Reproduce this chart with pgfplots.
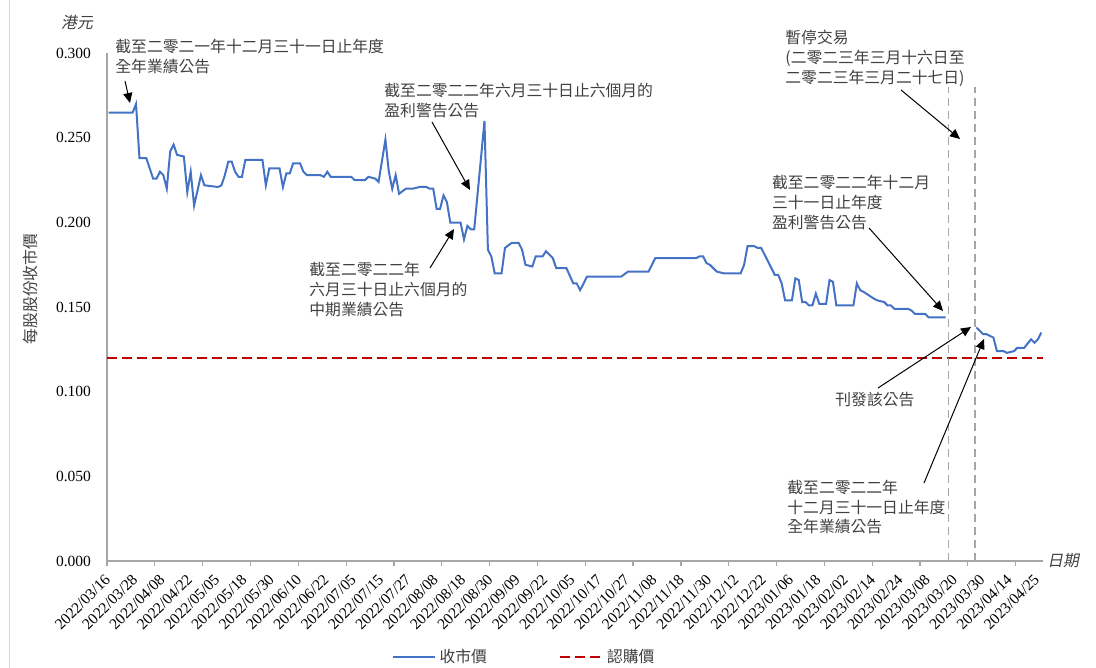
\documentclass[border=0pt]{standalone}
\usepackage{fontspec}
\setmainfont{Liberation Serif}
\newfontfamily\cjk{Noto Sans CJK TC}
\newfontfamily\cjkit[FakeSlant=0.2]{Noto Sans CJK TC}
\usepackage{pgfplots}
\pgfplotsset{compat=1.18}
\usetikzlibrary{arrows.meta}

\definecolor{lineblue}{RGB}{68,114,196}
\definecolor{subred}{RGB}{192,0,0}
\definecolor{axisgray}{RGB}{166,166,166}
\definecolor{txtgray}{RGB}{64,64,64}

\tikzset{ann/.style={-{Triangle[length=5pt,width=4.5pt]}, line width=0.5pt, black},
         anntext/.style={anchor=north west, inner sep=0pt, align=left, text=txtgray,
                         font=\cjk\fontsize{7.9}{9.9}\selectfont}}

\begin{document}
\begin{tikzpicture}
\useasboundingbox (0,0) rectangle (548pt,334pt);
\begin{axis}[
    at={(53.5pt,53.5pt)}, anchor=south west,
    scale only axis, width=468pt, height=253.85pt,
    xmin=-0.5, xmax=273.5, ymin=0, ymax=0.3,
    axis lines*=left,
    axis line style={draw=axisgray, line width=0.8pt},
    xtick={0,8,...,272},
    xticklabels={2022/03/16,2022/03/28,2022/04/08,2022/04/22,2022/05/05,2022/05/18,
        2022/05/30,2022/06/10,2022/06/22,2022/07/05,2022/07/15,2022/07/27,2022/08/08,
        2022/08/18,2022/08/30,2022/09/09,2022/09/22,2022/10/05,2022/10/17,2022/10/27,
        2022/11/08,2022/11/18,2022/11/30,2022/12/12,2022/12/22,2023/01/06,2023/01/18,
        2023/02/02,2023/02/14,2023/02/24,2023/03/08,2023/03/20,2023/03/30,2023/04/14,
        2023/04/25},
    minor xtick={-0.5,13.5,...,265.5},
    ytick={0,0.05,0.1,0.15,0.2,0.25,0.3},
    major tick length=0pt, minor tick length=2.5pt,
    tick align=outside,
    every tick/.style={draw=axisgray, line width=0.6pt},
    every minor tick/.style={draw=axisgray, line width=0.6pt},
    tick label style={font=\fontsize{7.75}{9}\selectfont, text=black},
    xticklabel style={yshift=-6pt, xshift=-2.5pt, rotate=45, anchor=north east, inner sep=0pt},
    yticklabel style={xshift=-4.5pt,
        /pgf/number format/.cd, fixed, fixed zerofill, precision=3, assume math mode=true},
    scaled y ticks=false,
    unbounded coords=jump,
    legend style={at={(0.4466,-0.189)}, anchor=center, draw=none, fill=none,
        legend columns=2, text=txtgray, font=\cjk\fontsize{7.9}{9}\selectfont,
        /tikz/every even column/.append style={column sep=34pt}},
    legend image code/.code={\draw[#1] (0pt,0pt) -- (21pt,0pt);},
    clip=false,
]
\addplot[color=lineblue, line width=1pt] table {
x y
0 0.265
7 0.265
8 0.270
9 0.238
11 0.238
13 0.226
14 0.226
15 0.230
16 0.228
17 0.220
18 0.242
19 0.246
20 0.240
22 0.239
23 0.218
24 0.230
25 0.210
27 0.228
28 0.222
32 0.221
33 0.222
34 0.228
35 0.236
36 0.236
37 0.230
38 0.227
39 0.227
40 0.237
45 0.237
46 0.222
47 0.232
50 0.232
51 0.221
52 0.229
53 0.229
54 0.235
56 0.235
57 0.230
58 0.228
62 0.228
63 0.227
64 0.230
65 0.227
71 0.227
72 0.225
75 0.225
76 0.227
78 0.226
79 0.224
81 0.249
82 0.230
83 0.220
84 0.228
85 0.217
87 0.220
89 0.220
91 0.221
93 0.221
94 0.220
95 0.220
96 0.208
97 0.208
98 0.216
99 0.212
100 0.200
103 0.200
104 0.190
105 0.198
106 0.196
107 0.196
110 0.260
111 0.184
112 0.180
113 0.170
115 0.170
116 0.185
118 0.188
120 0.188
121 0.184
122 0.175
124 0.174
125 0.180
127 0.180
128 0.183
130 0.179
131 0.173
134 0.173
136 0.164
137 0.164
138 0.160
140 0.168
150 0.168
152 0.171
158 0.171
160 0.179
172 0.179
173 0.180
174 0.180
175 0.176
176 0.175
178 0.171
180 0.170
185 0.170
186 0.175
187 0.186
189 0.186
190 0.185
191 0.185
192 0.181
195 0.169
196 0.169
197 0.164
198 0.154
200 0.154
201 0.167
202 0.166
203 0.153
204 0.153
205 0.151
206 0.151
207 0.158
208 0.152
210 0.152
211 0.166
212 0.165
213 0.151
218 0.151
219 0.164
220 0.160
221 0.159
224 0.155
225 0.154
227 0.153
228 0.151
229 0.151
230 0.149
234 0.149
235 0.148
236 0.146
239 0.146
240 0.144
245 0.144
246 nan
254 0.138
256 0.134
257 0.134
259 0.132
260 0.124
262 0.124
263 0.123
265 0.124
266 0.126
268 0.126
270 0.131
271 0.129
272 0.131
273 0.135
};
\addlegendentry{收市價}
\addplot[color=subred, line width=1pt, dash pattern=on 5pt off 2.5pt]
    coordinates {(-0.5,0.12) (273.5,0.12)};
\addlegendentry{認購價}
\addplot[forget plot, color=axisgray, line width=0.75pt, dash pattern=on 4pt off 2.5pt]
    coordinates {(245.8,0) (245.8,0.280)};
\addplot[forget plot, color=axisgray, line width=0.75pt, dash pattern=on 4pt off 2.5pt]
    coordinates {(253.6,0) (253.6,0.280)};
\end{axis}

% annotations, in reference pixel units
\begin{scope}[x=0.5pt, y=-0.5pt, shift={(0pt,334pt)}]
\draw[gray!30, line width=0.5pt] (9,0) -- (9,668);
\node[text=txtgray, font=\cjkit\fontsize{7.9}{9}\selectfont] at (77,22) {港元};
\node[text=txtgray, font=\cjkit\fontsize{7.9}{9}\selectfont, anchor=west, inner sep=0pt] at (1047,561) {日期};
\node[rotate=90, text=txtgray, font=\cjk\fontsize{7.9}{9}\selectfont] at (30,289) {每股股份收市價};

\node[anntext] at (115,38.5) {截至二零二一年十二月三十一日止年度\\全年業績公告};
\draw[ann] (125,81) -- (130,103);

\node[anntext] at (384,83) {截至二零二二年六月三十日止六個月的\\盈利警告公告};
\draw[ann] (432,122) -- (470,190);

\node[anntext] at (309,262) {截至二零二二年\\六月三十日止六個月的\\中期業績公告};
\draw[ann] (430,268) -- (454,229);

\node[anntext] at (771.7,175) {截至二零二二年十二月\\三十一日止年度\\盈利警告公告};
\draw[ann] (869,228) -- (943,311);

\node[anntext] at (785,30) {暫停交易\\(二零二三年三月十六日至\\二零二三年三月二十七日)};
\draw[ann] (901,90) -- (960,139);

\node[anntext] at (835,391.5) {刊發該公告};
\draw[ann] (878,388) -- (971,327);

\node[anntext] at (787,479.5) {截至二零二二年\\十二月三十一日止年度\\全年業績公告};
\draw[ann] (924,483) -- (984,339);
\end{scope}
\end{tikzpicture}
\end{document}
